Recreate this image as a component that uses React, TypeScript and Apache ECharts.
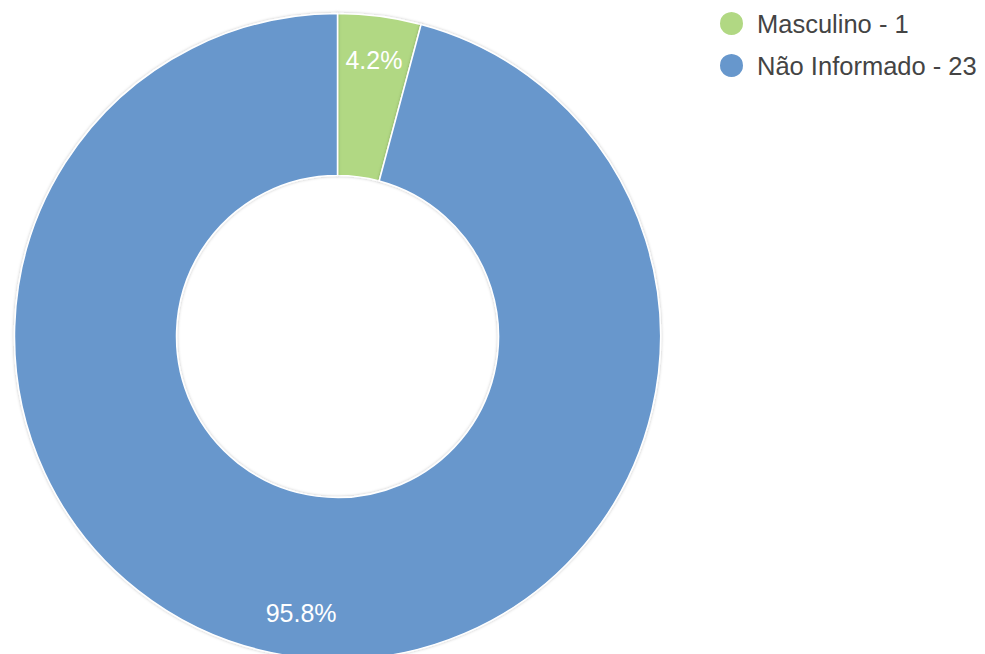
import React, { useEffect, useRef } from "react";
import * as echarts from "echarts";

const categories = ["Masculino", "Não Informado"];
const counts = [1, 23];
const colors = ["#b1d883", "#6797cc"];

export default function App() {
  const ref = useRef<HTMLDivElement>(null);
  useEffect(() => {
    if (!ref.current) return;
    const chart = echarts.init(ref.current, null, { renderer: "svg" });
    const total = counts.reduce((a, b) => a + b, 0);
    const data = categories.map((c, i) => ({
      name: c,
      value: counts[i],
      itemStyle: { color: colors[i] },
    }));
    chart.setOption({
      animation: false,
      legend: {
        orient: "vertical",
        left: 718,
        top: 10,
        padding: 0,
        icon: "circle",
        itemWidth: 25,
        itemHeight: 25,
        itemGap: 15,
        selectedMode: false,
        data: categories.map((c, i) => ({ name: c, itemStyle: { color: colors[i] } })),
        formatter: (name: string) => {
          const i = categories.indexOf(name);
          return `${name} - ${counts[i]}`;
        },
        textStyle: {
          fontFamily: "Liberation Sans, Arial, sans-serif",
          fontSize: 25.5,
          lineHeight: 24,
          color: "#444",
          padding: [0, 0, 0, 8],
        },
      },
      series: [
        {
          type: "pie",
          center: [337.5, 336.5],
          radius: [161, 323],
          startAngle: 90,
          clockwise: true,
          silent: true,
          label: { show: false },
          labelLine: { show: false },
          itemStyle: {
            borderColor: "#fff",
            borderWidth: 1.5,
            shadowColor: "rgba(0,0,0,0.25)",
            shadowBlur: 3,
          },
          data,
        },
        {
          type: "pie",
          center: [337.5, 336.5],
          radius: [229, 323],
          startAngle: 90,
          clockwise: true,
          silent: true,
          legendHoverLink: false,
          itemStyle: { color: "transparent" },
          label: {
            show: true,
            position: "inside",
            color: "#fff",
            fontFamily: "Liberation Sans, Arial, sans-serif",
            fontSize: 25,
            formatter: (p: any) => `${((p.value / total) * 100).toFixed(1)}%`,
          },
          labelLine: { show: false },
          data: categories.map((c, i) => ({
            name: c,
            value: counts[i],
            itemStyle: { color: "transparent" },
          })),
        },
      ],
    });
    return () => chart.dispose();
  }, []);
  return (
    <div
      ref={ref}
      style={{ position: "fixed", left: 0, top: 0, width: 985, height: 654, background: "#fff" }}
    />
  );
}
